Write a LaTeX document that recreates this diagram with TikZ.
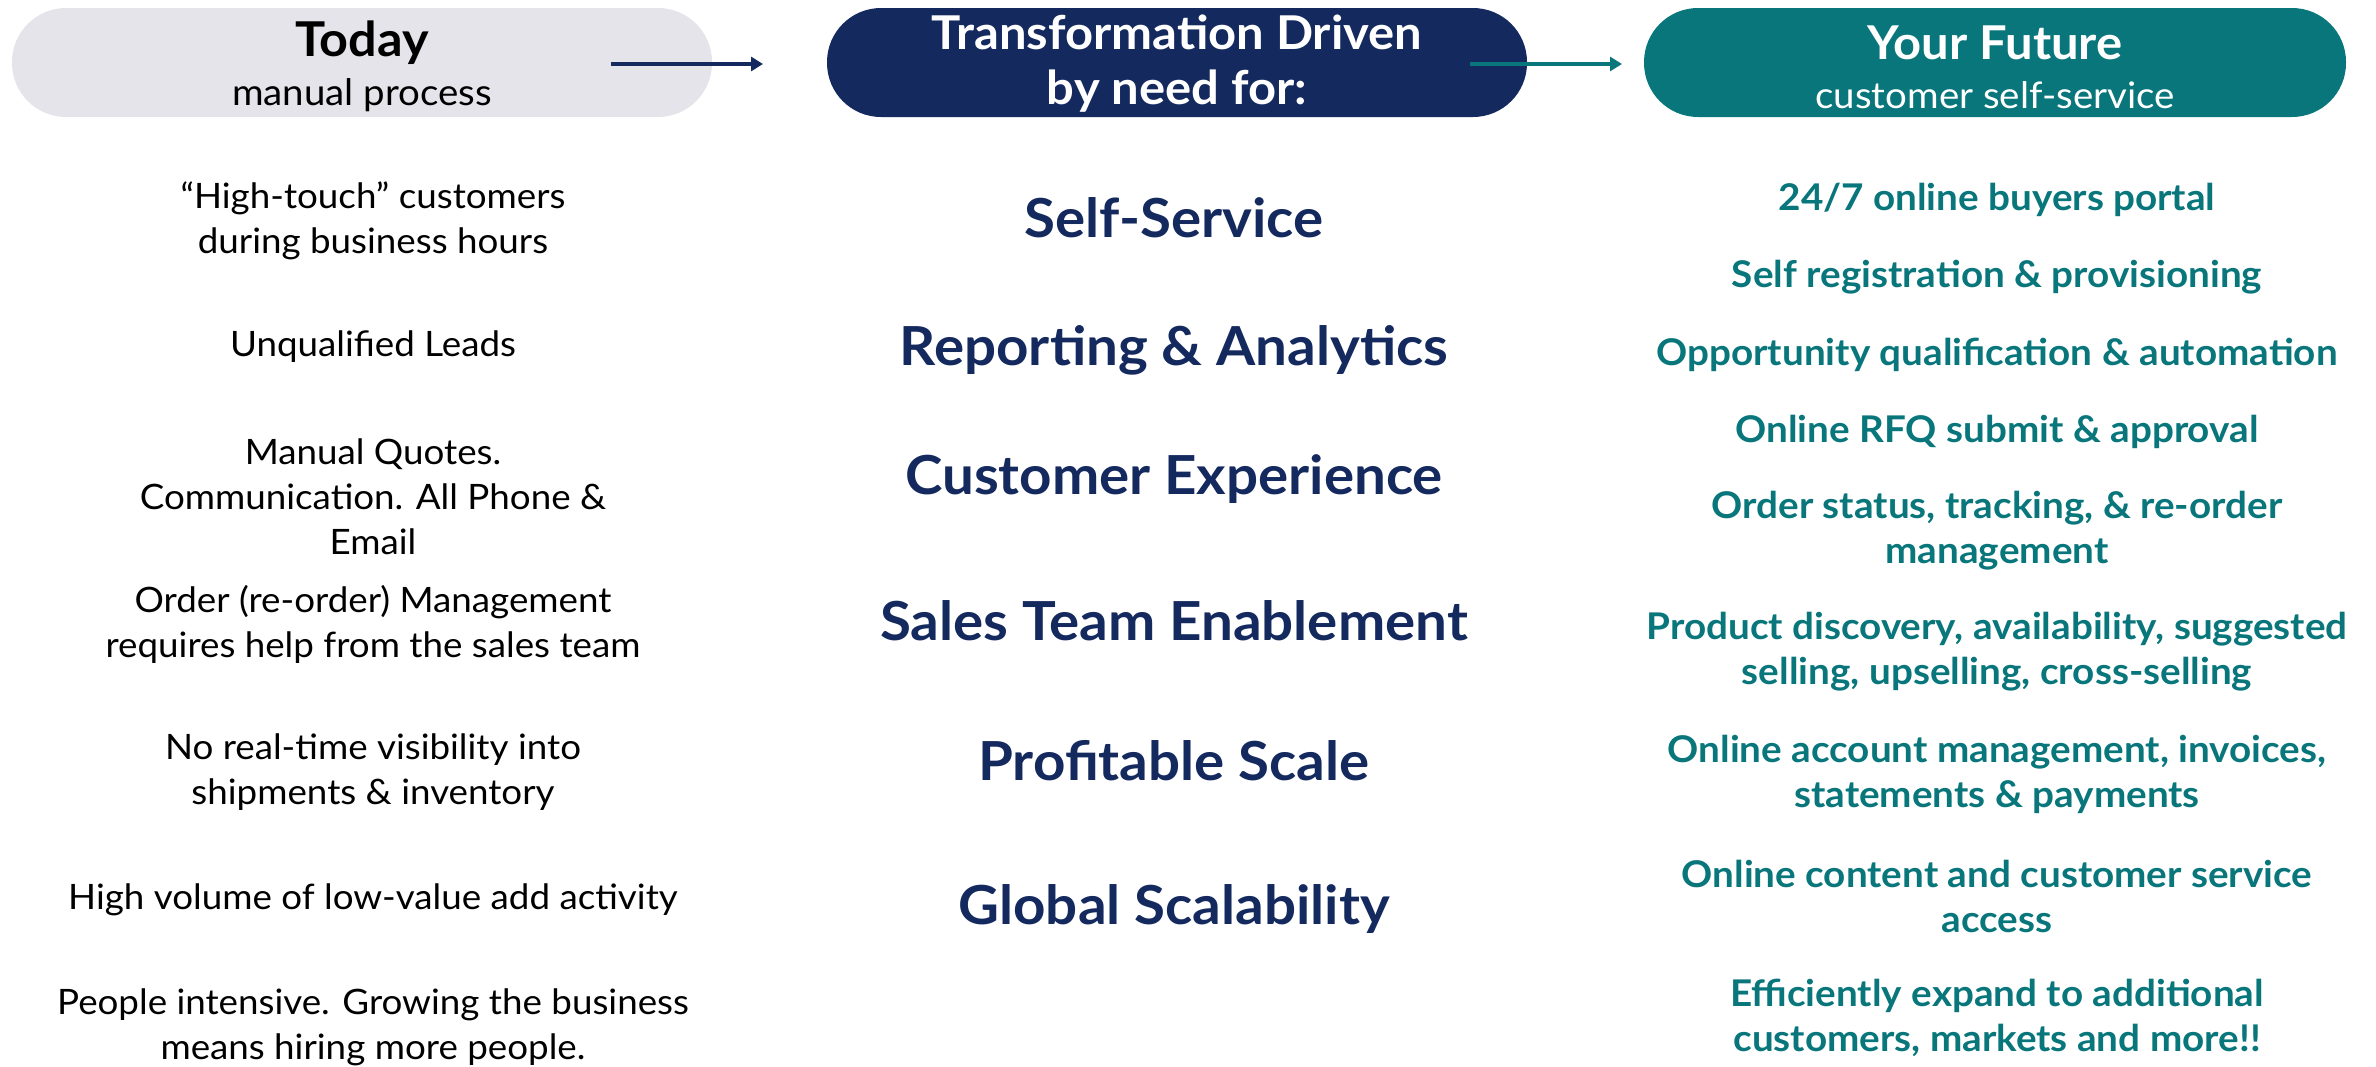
\documentclass[tikz,border=0pt]{standalone}
\usepackage{fontspec}
\setmainfont{Lato}[FakeStretch=1.05]
\usetikzlibrary{arrows.meta}
\definecolor{navy}{HTML}{14295E}
\definecolor{teal}{HTML}{08767B}
\definecolor{pale}{HTML}{E4E4EA}
\begin{document}
\begin{tikzpicture}[x=0.5pt,y=-0.5pt,
  pill/.style={rounded corners=27pt},
  lefttxt/.style={align=center,text=black,font=\fontsize{17.5}{22.5}\selectfont},
  midtxt/.style={align=center,text=navy,font=\fontsize{26.9}{30}\selectfont\bfseries},
  righttxt/.style={align=center,text=teal,font=\fontsize{18.4}{22.5}\selectfont\bfseries},
  flow/.style={line width=1.6pt,-{Triangle[length=6pt,width=7pt]}}]
\useasboundingbox (0,0) rectangle (2376,1066);
% header pills
\fill[pale,pill] (12,8) rectangle (712,117);
\fill[navy,pill] (827,8) rectangle (1527,117);
\fill[teal,pill] (1644,8) rectangle (2346,117);
\node[font=\fontsize{24}{26}\selectfont\bfseries] (today) at (362,43) {Today};
\node[font=\fontsize{18.3}{20}\selectfont] (todaysub) at (362,95) {manual process};
\node[text=white,align=center,font=\fontsize{23.3}{27.5}\selectfont\bfseries] (drive) at (1177,64) {Transformation Driven\\by need for:};
\node[text=white,font=\fontsize{23.3}{26}\selectfont\bfseries] (future) at (1995,43) {Your Future};
\node[text=white,font=\fontsize{18.3}{20}\selectfont] (futuresub) at (1995,95) {customer self-service};
% arrows between the pills
\coordinate (a1s) at (611,64); \coordinate (a1e) at (763,64);
\coordinate (a2s) at (1470,64); \coordinate (a2e) at (1622,64);
\draw[flow,navy] (a1s) -- (a1e);
\draw[flow,teal] (a2s) -- (a2e);
\begin{scope}[shift={(0,3)}]
% today column
\node[lefttxt] (l1) at (373,218) {“High-touch” customers\\during business hours};
\node[lefttxt] (l2) at (373,344) {Unqualified Leads};
\node[lefttxt] (l3) at (373,494) {Manual Quotes.\\Communication. All Phone \&\\Email};
\node[lefttxt] (l4) at (373,621) {Order (re-order) Management\\requires help from the sales team};
\node[lefttxt] (l5) at (373,769) {No real-time visibility into\\shipments \& inventory};
\node[lefttxt] (l6) at (373,897) {High volume of low-value add activity};
\node[lefttxt] (l7) at (373,1024) {People intensive. Growing the business\\means hiring more people.};
% drivers column
\node[midtxt] (m1) at (1174,215) {Self-Service};
\node[midtxt] (m2) at (1174,347) {Reporting \& Analytics};
\node[midtxt] (m3) at (1174,476) {Customer Experience};
\node[midtxt] (m4) at (1174,618) {Sales Team Enablement};
\node[midtxt] (m5) at (1174,758) {Profitable Scale};
\node[midtxt] (m6) at (1174,906) {Global Scalability};
% future column
\node[righttxt] (r1) at (1997,197) {24/7 online buyers portal};
\node[righttxt] (r2) at (1997,274) {Self registration \& provisioning};
\node[righttxt] (r3) at (1997,352) {Opportunity qualification \& automation};
\node[righttxt] (r4) at (1997,429) {Online RFQ submit \& approval};
\node[righttxt] (r5) at (1997,528) {Order status, tracking, \& re-order\\management};
\node[righttxt] (r6) at (1997,649) {Product discovery, availability, suggested\\selling, upselling, cross-selling};
\node[righttxt] (r7) at (1997,771) {Online account management, invoices,\\statements \& payments};
\node[righttxt] (r8) at (1997,893) {Online content and customer service\\access};
\node[righttxt] (r9) at (1997,1015) {Efficiently expand to additional\\customers, markets and more!!};
\end{scope}
\end{tikzpicture}
\end{document}
